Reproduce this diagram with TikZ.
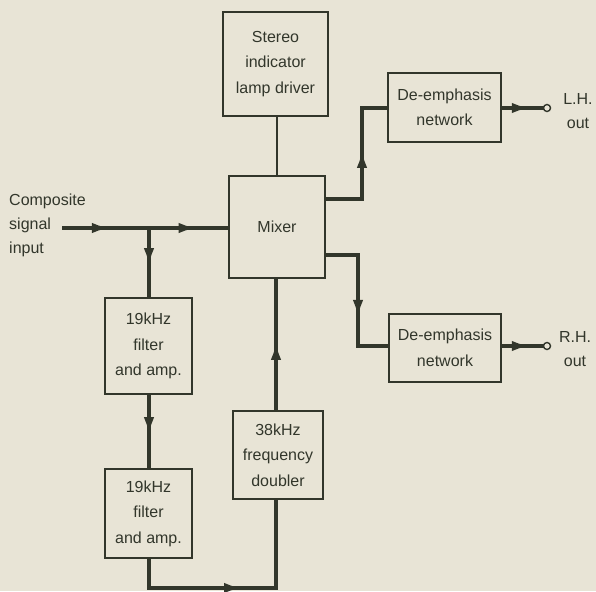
\documentclass[tikz,border=0pt]{standalone}
\usepackage{fontspec}
\setmainfont{Liberation Sans}
\usetikzlibrary{arrows.meta,decorations.markings}
\definecolor{ink}{RGB}{50,54,43}
\definecolor{paper}{RGB}{232,228,214}
\tikzset{
  blk/.style={draw=ink, line width=1.4pt, minimum width=#1, inner sep=0pt, align=center,
    font=\fontsize{16}{25.5}\selectfont, text=ink},
  lbl/.style={font=\fontsize{16}{24}\selectfont, text=ink, inner sep=0pt},
  wire/.style={draw=ink, line width=3.4pt, line join=miter},
  thinwire/.style={draw=ink, line width=2.8pt},
  midarr/.style={postaction={decorate}, decoration={markings,
    mark=at position #1 with {\arrow[ink]{Latex[length=18pt,width=10.5pt]}}}},
  term/.style={circle, draw=ink, fill=paper, line width=1.4pt, minimum size=7pt, inner sep=0pt}
}
\begin{document}
\begin{tikzpicture}[x=1pt,y=-1pt]
\fill[paper] (0,0) rectangle (596,591);
\useasboundingbox (0,0) rectangle (596,591);

\node[blk=105pt, minimum height=104pt] (st) at (275.5,64) {Stereo\\indicator\\lamp driver};
\node[blk=96pt, minimum height=102pt] (mx) at (277,227) {Mixer};
\node[blk=113pt, minimum height=69pt] (dl) at (444.5,107.5) {De-emphasis\\network};
\node[blk=112pt, minimum height=68pt] (dr) at (445,348) {De-emphasis\\network};
\node[blk=87pt, minimum height=96pt] (f1) at (148.5,346) {19kHz\\filter\\and amp.};
\node[blk=87pt, minimum height=89pt] (f2) at (148.5,513.5) {19kHz\\filter\\and amp.};
\node[blk=90pt, minimum height=88pt] (db) at (278,455) {38kHz\\frequency\\doubler};

\node[lbl, anchor=west, align=left] (cin) at (9,225) {Composite\\signal\\input};
\node[lbl, align=center] (lh) at (578,111) {L.H.\\out};
\node[lbl, align=center] (rh) at (575,349) {R.H.\\out};

\coordinate (in) at (62,228);
\coordinate (j1) at (149,228);
\coordinate (tl) at (547,108);
\coordinate (tr) at (547,346);
\coordinate (b1) at (149,588);
\coordinate (b2) at (276,588);

% input
\draw[wire, midarr=0.55] (in) -- (j1);
\draw[wire, midarr=0.6] (j1) -- (mx.west |- j1);
\draw[wire, midarr=0.55] (j1) -- (f1.north -| j1);
\draw[wire, midarr=0.55] (f1.south -| j1) -- (f2.north -| j1);
\draw[wire, midarr=0.5] (f2.south -| b1) -- (b1) -- (b2) -- (db.south -| b2);
\draw[wire, midarr=0.52] (db.north -| b2) -- (mx.south -| b2);
\draw[thinwire] (st.south -| 277,0) -- (mx.north -| 277,0);

% outputs
\draw[wire, midarr=0.56] (mx.east |- 0,199) -- (362,199) -- (362,108) -- (dl.west |- 0,108);
\draw[wire, midarr=0.62] (mx.east |- 0,255) -- (358,255) -- (358,346) -- (dr.west |- 0,346);
\draw[wire, midarr=0.62] (dl.east |- tl) -- (tl);
\draw[wire, midarr=0.62] (dr.east |- tr) -- (tr);
\node[term] (ol) at (tl) {};
\node[term] (or) at (tr) {};
\end{tikzpicture}
\end{document}
